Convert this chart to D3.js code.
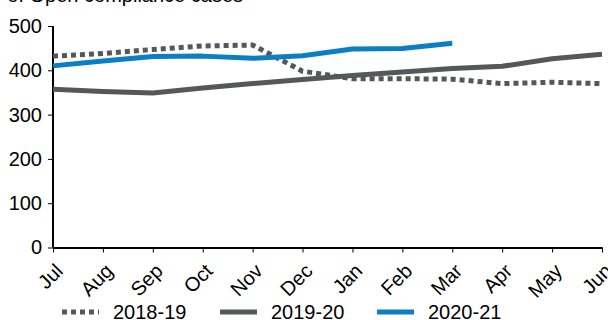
<!DOCTYPE html>
<html><head><meta charset="utf-8">
<script src="https://cdn.jsdelivr.net/npm/d3@7"></script>
<style>body{margin:0;background:#fff}svg{display:block}text{font-family:"Liberation Sans",Arial,sans-serif}</style>
</head><body>
<svg id="c" width="608" height="320"></svg>
<script>
const months = ["Jul","Aug","Sep","Oct","Nov","Dec","Jan","Feb","Mar","Apr","May","Jun"];
const s2018 = [432,438,447,455,457,398,381,381,380,370,373,370];
const s2019 = [357,352,349,360,370,379,388,396,404,409,426,436];
const s2020 = [410,421,431,432,427,433,448,449,461];
const yTicks = [0,100,200,300,400,500];
const seriesNames = ["2018-19","2019-20","2020-21"];

const svg = d3.select("#c");
const x = d3.scalePoint().domain(months).range([53,602]);
const y = d3.scaleLinear().domain([0,500]).range([247.5,26]);
const grey = "#55575a", blue = "#0a7fc4";

svg.append("text").attr("x",243).attr("y",2).attr("text-anchor","end")
  .attr("font-size",20).attr("fill","#000").text("Number of Open compliance cases");

const ya = svg.append("g").attr("transform","translate(53,0)")
  .call(d3.axisLeft(y).tickValues(yTicks).tickSize(5).tickPadding(6));
ya.select(".domain").attr("stroke","#000").attr("stroke-width",2).attr("d","M0,26V247.5");
ya.selectAll("text").attr("font-size",20).attr("fill","#000").attr("font-family","Liberation Sans, Arial");
ya.selectAll("line").attr("stroke","#000").attr("stroke-width",1);

const xa = svg.append("g").attr("transform","translate(0,247.5)")
  .call(d3.axisBottom(x).tickSize(5).tickSizeOuter(0).tickPadding(4));
xa.select(".domain").attr("stroke","#000").attr("stroke-width",2);
xa.selectAll("line").attr("stroke","#000").attr("stroke-width",1);
xa.selectAll("text").attr("font-size",20).attr("fill","#000").attr("font-family","Liberation Sans, Arial")
  .attr("text-anchor","end").attr("dy",null).attr("dominant-baseline","middle")
  .attr("transform","translate(7,21) rotate(-45)");
xa.selectAll("text").attr("y",0).attr("x",0);

const line = d3.line().x((d,i)=>x(months[i])).y(d=>y(d));
const defs = [
  {data:s2018, color:grey, dash:"5,4"},
  {data:s2019, color:grey, dash:null},
  {data:s2020, color:blue, dash:null}
];
defs.forEach(s=>{
  svg.append("path").datum(s.data).attr("d",line).attr("fill","none")
    .attr("stroke",s.color).attr("stroke-width",5)
    .attr("stroke-dasharray",s.dash).attr("stroke-linejoin","round");
});

const legX = [62,220,377];
seriesNames.forEach((n,i)=>{
  svg.append("line").attr("x1",legX[i]).attr("x2",legX[i]+37).attr("y1",312).attr("y2",312)
    .attr("stroke",defs[i].color).attr("stroke-width",5).attr("stroke-dasharray",defs[i].dash);
  svg.append("text").attr("x",legX[i]+51).attr("y",319).attr("font-size",20).attr("fill","#000").text(n);
});
</script>
</body></html>
